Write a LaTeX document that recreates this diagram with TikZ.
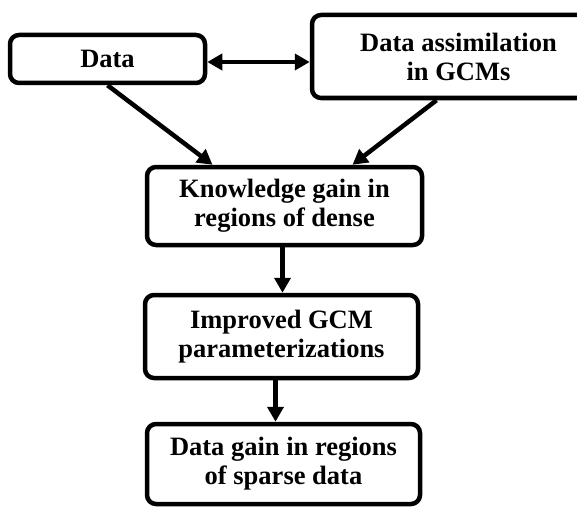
\documentclass[tikz,border=0pt]{standalone}
\usepackage{fontspec}
\setmainfont{Liberation Serif}
\usepackage{tikz}
\usetikzlibrary{arrows.meta, positioning}

\begin{document}
\begin{tikzpicture}[x=1pt, y=-1pt,
   box/.style={rectangle, rounded corners=9pt, draw, line width=4.5pt, align=center,
               font=\fontsize{26.5}{29}\selectfont\bfseries, inner sep=0pt},
   arr/.style={line width=4.5pt, -{Triangle[length=15pt, width=16pt]}},
   darr/.style={line width=4.5pt, {Triangle[length=15pt, width=16pt]}-{Triangle[length=15pt, width=16pt]}}]
  \useasboundingbox (0,0) rectangle (577,508);
  \node[box, minimum width=195pt, minimum height=48pt] (data) at (107.5,59) {Data};
  \node[box, minimum width=293pt, minimum height=83pt] (assim) at (458.5,56.5) {Data assimilation\\in GCMs};
  \node[box, minimum width=275pt, minimum height=78pt] (know) at (284.5,206) {Knowledge gain in\\regions of dense};
  \node[box, minimum width=273pt, minimum height=83pt] (impr) at (281.5,336.5) {Improved GCM\\parameterizations};
  \node[box, minimum width=273pt, minimum height=80pt] (gain) at (283.5,464) {Data gain in regions\\of sparse data};

  \draw[darr] ([yshift=-3pt]data.east) -- ([yshift=-3pt]data.east -| assim.west);
  \draw[arr] (data.south) -- ([xshift=-72pt]know.north);
  \draw[arr] ([xshift=-22pt]assim.south) -- ([xshift=68pt]know.north);
  \draw[arr] ([xshift=-2pt]know.south) -- ([xshift=-2pt]know.south |- impr.north);
  \draw[arr] ([xshift=-6pt]impr.south) -- ([xshift=-6pt]impr.south |- gain.north);
\end{tikzpicture}
\end{document}
